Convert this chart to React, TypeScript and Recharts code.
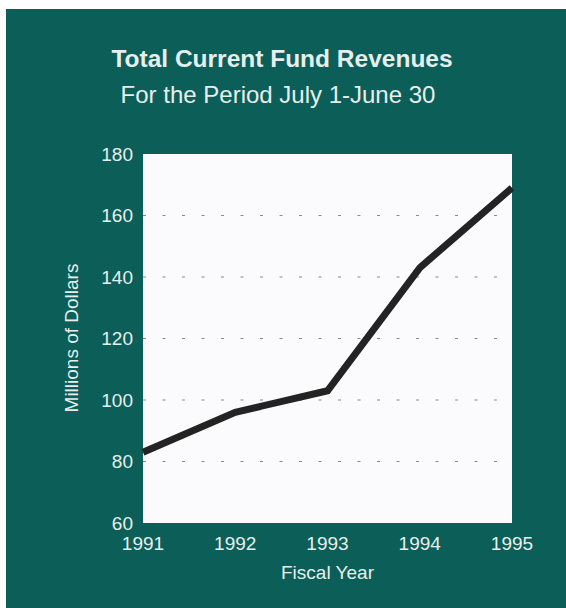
import { LineChart, Line, XAxis, YAxis, CartesianGrid, ReferenceLine } from 'recharts';

const years = ['1991', '1992', '1993', '1994', '1995'];
const revenues = [83, 96, 103, 143, 169];
const yTicks = [60, 80, 100, 120, 140, 160, 180];
const gridValues = [80, 100, 120, 140, 160];

const TEAL = '#0c5e58';
const TEXT = '#e6efeb';
const FONT = '"Liberation Sans", Arial, Helvetica, sans-serif';

const data = years.map((year, i) => ({ year, value: revenues[i] }));

export default function App() {
  return (
    <div
      style={{
        position: 'fixed',
        left: 6,
        top: 9,
        width: 560,
        height: 599,
        background: TEAL,
        fontFamily: FONT,
        color: TEXT,
      }}
    >
      <div
        style={{
          position: 'absolute',
          top: 36,
          left: 0,
          width: 552,
          textAlign: 'center',
          fontSize: 24.5,
          fontWeight: 'bold',
        }}
      >
        Total Current Fund Revenues
      </div>
      <div
        style={{
          position: 'absolute',
          top: 72,
          left: 0,
          width: 544,
          textAlign: 'center',
          fontSize: 24,
        }}
      >
        For the Period July 1-June 30
      </div>
      <div style={{ position: 'absolute', left: 66, top: 329, width: 0, height: 0 }}>
        <div
          style={{
            position: 'absolute',
            transform: 'translate(-50%, -50%) rotate(-90deg)',
            whiteSpace: 'nowrap',
            fontSize: 19,
          }}
        >
          Millions of Dollars
        </div>
      </div>
      <LineChart
        width={560}
        height={599}
        data={data}
        margin={{ top: 145, right: 54, bottom: 55, left: 77 }}
      >
        <CartesianGrid horizontal={false} vertical={false} fill="#fbfbfd" />
        {gridValues.map((v) => (
          <ReferenceLine key={v} y={v} stroke="#8a8a8a" strokeWidth={1.2} strokeDasharray="3 16.5" />
        ))}
        <XAxis
          dataKey="year"
          axisLine={false}
          tickLine={false}
          tickSize={0}
          tickMargin={14}
          tick={{ fill: TEXT, fontSize: 19, fontFamily: FONT }}
          interval={0}
          label={{ value: 'Fiscal Year', position: 'bottom', offset: 13, fill: TEXT, fontSize: 19, fontFamily: FONT }}
        />
        <YAxis
          width={60}
          domain={[60, 180]}
          ticks={yTicks}
          interval={0}
          axisLine={false}
          tickLine={false}
          tickSize={0}
          tickMargin={10}
          tick={{ fill: TEXT, fontSize: 19, fontFamily: FONT }}
        />
        <Line
          type="linear"
          dataKey="value"
          stroke="#232323"
          strokeWidth={7}
          dot={false}
          isAnimationActive={false}
        />
      </LineChart>
    </div>
  );
}
